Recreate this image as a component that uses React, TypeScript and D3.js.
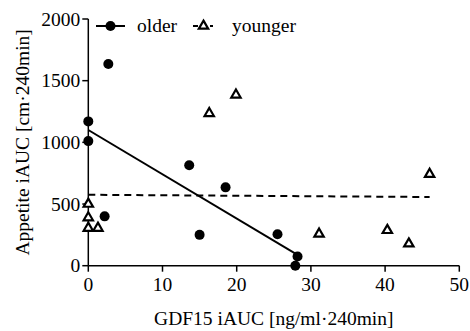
import React from "react";
import * as d3 from "d3";

const olderX = [0, 0, 2.2, 2.7, 13.6, 15.0, 18.5, 25.5, 28.2, 27.9];
const olderY = [1170, 1010, 400, 1635, 815, 250, 635, 255, 75, 0];
const youngerX = [0, 0, 0, 1.3, 16.3, 19.9, 31.1, 40.3, 43.2, 46.0];
const youngerY = [500, 390, 305, 305, 1235, 1385, 258, 287, 178, 742];
const olderFitX = [0, 28.2];
const olderFitY = [1100, 88];
const youngerFitX = [0, 46];
const youngerFitY = [575, 557];
const xTicks = [0, 10, 20, 30, 40, 50];
const yTicks = [0, 500, 1000, 1500, 2000];
const seriesNames = ["older", "younger"];
const xTitle = "GDF15 iAUC [ng/ml·240min]";
const yTitle = "Appetite iAUC [cm·240min]";

const W = 470;
const H = 331;
const FONT = "Liberation Serif";
const FS = 19.5;

export default function App() {
  const x = d3.scaleLinear().domain([0, 50]).range([88.3, 459.3]);
  const y = d3.scaleLinear().domain([0, 2000]).range([265.7, 19]);
  const line = d3
    .line<[number, number]>()
    .x((d) => x(d[0]))
    .y((d) => y(d[1]));
  const tri = d3.symbol().type(d3.symbolTriangle).size(38)() as string;
  const olderFit = olderFitX.map((v, i) => [v, olderFitY[i]] as [number, number]);
  const youngerFit = youngerFitX.map((v, i) => [v, youngerFitY[i]] as [number, number]);
  const x0 = x(0);
  const y0 = y(0);
  return (
    <svg
      width={W}
      height={H}
      style={{ position: "absolute", left: 0, top: 0, background: "#fff", fontFamily: FONT, fontSize: FS }}
    >
      {/* regression lines */}
      <path d={line(olderFit) || ""} stroke="#000" strokeWidth={2} fill="none" />
      <path
        d={line(youngerFit) || ""}
        stroke="#000"
        strokeWidth={2}
        fill="none"
        strokeDasharray="7,5"
      />
      {/* axes */}
      <line x1={x0} x2={x0} y1={y(2000)} y2={y0} stroke="#000" strokeWidth={1.5} />
      <line x1={x0} x2={x(50)} y1={y0} y2={y0} stroke="#000" strokeWidth={1.5} />
      {yTicks.map((t) => (
        <g key={"y" + t}>
          <line x1={x0 - 6} x2={x0} y1={y(t)} y2={y(t)} stroke="#000" strokeWidth={1.5} />
          <text x={x0 - 8} y={y(t)} dy="0.34em" textAnchor="end">
            {t}
          </text>
        </g>
      ))}
      {xTicks.map((t) => (
        <g key={"x" + t}>
          <line x1={x(t)} x2={x(t)} y1={y0} y2={y0 + 6} stroke="#000" strokeWidth={1.5} />
          <text x={x(t)} y={291} textAnchor="middle">
            {t}
          </text>
        </g>
      ))}
      <text x={(x(0) + x(50)) / 2} y={325} textAnchor="middle">
        {xTitle}
      </text>
      <text
        transform={`translate(29,${(y(0) + y(2000)) / 2}) rotate(-90)`}
        textAnchor="middle"
      >
        {yTitle}
      </text>
      {/* points */}
      {youngerX.map((v, i) => (
        <path
          key={"yg" + i}
          d={tri}
          transform={`translate(${x(v)},${y(youngerY[i])})`}
          fill="#fff"
          stroke="#000"
          strokeWidth={2.2}
        />
      ))}
      {olderX.map((v, i) => (
        <circle key={"o" + i} cx={x(v)} cy={y(olderY[i])} r={5} fill="#000" />
      ))}
      {/* legend */}
      <line x1={96} x2={125} y1={26} y2={26} stroke="#000" strokeWidth={2} />
      <circle cx={110.5} cy={26} r={5} fill="#000" />
      <text x={137} y={32}>
        {seriesNames[0]}
      </text>
      <line x1={193} x2={198} y1={26} y2={26} stroke="#000" strokeWidth={2} />
      <line x1={210} x2={213} y1={26} y2={26} stroke="#000" strokeWidth={2} />
      <path d={tri} transform="translate(203.5,26)" fill="#fff" stroke="#000" strokeWidth={2.2} />
      <text x={232} y={32}>
        {seriesNames[1]}
      </text>
    </svg>
  );
}
